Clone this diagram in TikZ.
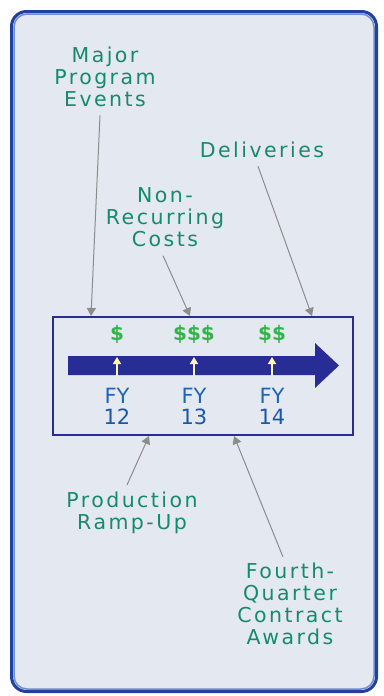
\documentclass[tikz,border=0pt]{standalone}
\usepackage{fontspec}
\usepackage{xcolor}
\usetikzlibrary{arrows.meta,positioning,calc}
\newfontfamily\lblfont[LetterSpace=12]{DejaVu Sans}
\newfontfamily\yrfont{DejaVu Sans}
\definecolor{panelfill}{RGB}{228,233,241}
\definecolor{framedark}{RGB}{35,65,155}
\definecolor{framelight}{RGB}{110,140,210}
\definecolor{labelteal}{RGB}{22,138,108}
\definecolor{cashgreen}{RGB}{50,180,70}
\definecolor{yearblue}{RGB}{30,100,180}
\definecolor{numblue}{RGB}{25,88,168}
\definecolor{timenavy}{RGB}{40,45,150}
\definecolor{tickyellow}{RGB}{255,246,175}
\definecolor{ptrgray}{RGB}{140,140,140}

\begin{document}
\begin{tikzpicture}[x=1pt, y=-1pt,
  lbl/.style={anchor=north, align=center, inner sep=0pt, text=labelteal, font=\lblfont\fontsize{20.5}{22}\selectfont},
  cash/.style={anchor=base, inner sep=0pt, text=cashgreen, font=\yrfont\bfseries\fontsize{20}{20}\selectfont},
  yr/.style={anchor=base, inner sep=0pt, text=yearblue, font=\yrfont\fontsize{21}{21}\selectfont},
  yrnum/.style={yr, text=numblue},
  ptr/.style={draw=ptrgray, line width=1pt, -{Triangle[width=9pt, length=8pt]}},
  tick/.style={draw=tickyellow, line width=1.5pt, -{Triangle[width=8pt, length=7pt]}},
]
% panel
\fill[white] (0,0) rectangle (383,696);
\draw[framedark, line width=3pt, fill=panelfill, rounded corners=15pt] (11.5,11.5) rectangle (376.5,691.5);
\draw[framelight, line width=1.5pt, rounded corners=13pt] (14,14) rectangle (374,689);

% timeline box and arrow
\node[draw=timenavy, line width=1.2pt, minimum width=300pt, minimum height=118pt, inner sep=0pt] (tlbox) at (203,376) {};
\fill[timenavy] (68,356) -- (315,356) -- (315,343) -- (339,365.5) -- (315,388) -- (315,375) -- (68,375) -- cycle;

% years
\coordinate (b12) at (117,376); \coordinate (t12) at (117,357);
\coordinate (b13) at (194,376); \coordinate (t13) at (194,357);
\coordinate (b14) at (272,376); \coordinate (t14) at (272,357);
\draw[tick] (b12) -- (t12);
\draw[tick] (b13) -- (t13);
\draw[tick] (b14) -- (t14);

\node[cash] (c12) at (117,340) {\$};
\node[cash] (c13) at (194,340) {\$\$\$};
\node[cash] (c14) at (272,340) {\$\$};

\node[yr] (fy12) at (117,403) {FY};
\node[yr] (fy13) at (194,403) {FY};
\node[yr] (fy14) at (272,403) {FY};
\node[yrnum] (n12) at (117,424) {12};
\node[yrnum] (n13) at (194,424) {13};
\node[yrnum] (n14) at (272,424) {14};

% labels
\node[lbl] (events) at (105,47) {Major\\Program\\Events};
\node[lbl] (nonrec) at (165,187) {Non-\\Recurring\\Costs};
\node[lbl] (deliv) at (262,142) {Deliveries};
\node[lbl] (rampup) at (132,492) {Production\\Ramp-Up};
\node[lbl] (q4) at (290,563) {Fourth-\\Quarter\\Contract\\Awards};

% pointers
\coordinate (hitA) at (91,316);
\coordinate (hitB) at (190,316);
\coordinate (hitC) at (312,316);
\coordinate (hitD) at (149,436);
\coordinate (hitE) at (234,436);
\draw[ptr] ([xshift=-5pt, yshift=-8pt]events.south) -- (hitA);
\draw[ptr] ([xshift=-2pt, yshift=-9pt]nonrec.south) -- (hitB);
\draw[ptr] ([xshift=-4pt, yshift=-8pt]deliv.south) -- (hitC);
\draw[ptr] ([xshift=-5pt, yshift=7pt]rampup.north) -- (hitD);
\draw[ptr] ([xshift=-7pt, yshift=6pt]q4.north) -- (hitE);
\end{tikzpicture}
\end{document}
